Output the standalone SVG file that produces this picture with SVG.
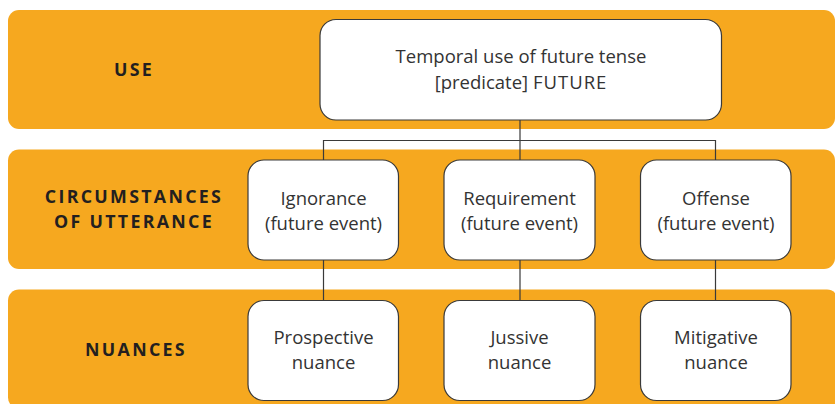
<svg xmlns="http://www.w3.org/2000/svg" width="835" height="404" viewBox="0 0 835 404">
  <style>
    .band { fill: #F6A81F; }
    .node { fill: #FFFFFF; stroke: #3a3a3a; stroke-width: 1.2; }
    .lbl { font-family: "Open Sans", "Liberation Sans", sans-serif; font-weight: bold; font-size: 17.8px; letter-spacing: 2.3px; fill: #231F20; text-anchor: middle; }
    .txt { font-family: "Open Sans", "Liberation Sans", sans-serif; font-size: 18.5px; fill: #333333; text-anchor: middle; }
    .conn { fill: none; stroke: #3a3a3a; stroke-width: 1.2; }
  </style>

  <!-- level bands -->
  <g id="band-use">
    <rect class="band" x="8" y="10" width="827" height="119" rx="11"/>
    <text class="lbl" x="134" y="76">USE</text>
  </g>
  <g id="band-circumstances">
    <rect class="band" x="8" y="149.5" width="827" height="119.5" rx="11"/>
    <text class="lbl" x="134" y="203">CIRCUMSTANCES</text>
    <text class="lbl" x="134" y="228">OF UTTERANCE</text>
  </g>
  <g id="band-nuances">
    <rect class="band" x="8" y="289.5" width="830" height="119" rx="11"/>
    <text class="lbl" x="136" y="356">NUANCES</text>
  </g>

  <!-- connectors -->
  <g id="connectors">
    <path class="conn" d="M520 120 V140.5 M323.5 160 V140.5 H715.5 V160 M520 140.5 V160"/>
    <path class="conn" d="M323.5 260 V300.5 M520 260 V300.5 M715.5 260 V300.5"/>
  </g>

  <!-- nodes -->
  <g id="node-temporal">
    <rect class="node" x="320" y="19.5" width="401.5" height="100.5" rx="16"/>
    <text class="txt" x="521" y="63">Temporal use of future tense</text>
    <text class="txt" x="521" y="89">[predicate] <tspan letter-spacing="1">FUTURE</tspan></text>
  </g>

  <g id="node-ignorance">
    <rect class="node" x="248" y="160" width="150.5" height="100" rx="16"/>
    <text class="txt" x="323.5" y="205">Ignorance</text>
    <text class="txt" x="323.5" y="230">(future event)</text>
  </g>
  <g id="node-requirement">
    <rect class="node" x="444" y="160" width="151" height="100" rx="16"/>
    <text class="txt" x="519.5" y="205">Requirement</text>
    <text class="txt" x="519.5" y="230">(future event)</text>
  </g>
  <g id="node-offense">
    <rect class="node" x="640.5" y="160" width="150.5" height="100" rx="16"/>
    <text class="txt" x="716" y="205">Offense</text>
    <text class="txt" x="716" y="230">(future event)</text>
  </g>

  <g id="node-prospective">
    <rect class="node" x="248" y="300.5" width="150.5" height="100" rx="16"/>
    <text class="txt" x="323.5" y="344">Prospective</text>
    <text class="txt" x="323.5" y="369">nuance</text>
  </g>
  <g id="node-jussive">
    <rect class="node" x="444" y="300.5" width="151" height="100" rx="16"/>
    <text class="txt" x="519.5" y="344">Jussive</text>
    <text class="txt" x="519.5" y="369">nuance</text>
  </g>
  <g id="node-mitigative">
    <rect class="node" x="640.5" y="300.5" width="150.5" height="100" rx="16"/>
    <text class="txt" x="716" y="344">Mitigative</text>
    <text class="txt" x="716" y="369">nuance</text>
  </g>
</svg>
